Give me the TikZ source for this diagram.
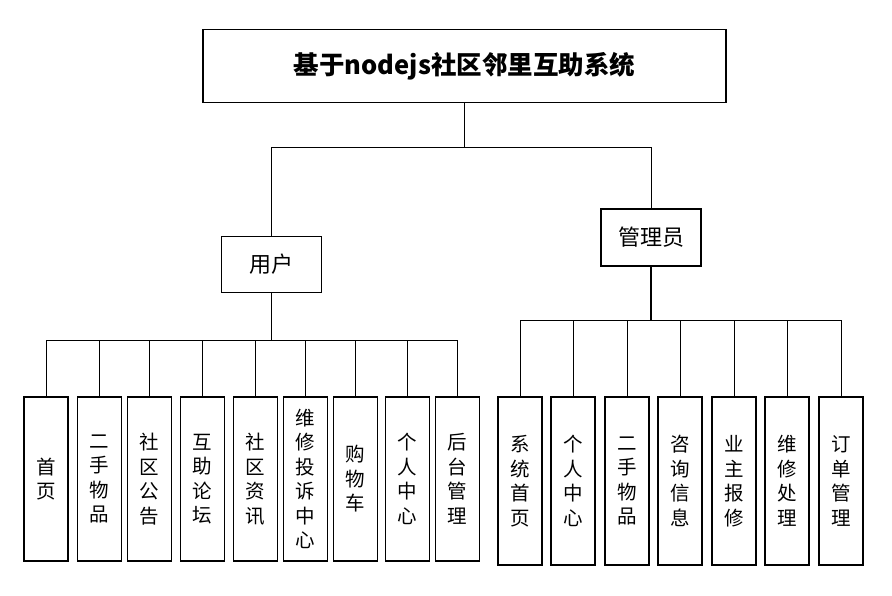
\documentclass[tikz,border=0pt]{standalone}
\usepackage{fontspec}
\setmainfont{Noto Sans CJK SC}
\usetikzlibrary{positioning}

\begin{document}
\begin{tikzpicture}[x=1pt, y=-1pt, every node/.style={inner sep=0pt, outer sep=0pt},
		box/.style={draw, line width=1.2pt, align=center},
		role/.style={box, minimum width=100pt, minimum height=56pt, font=\fontsize{22}{24}\selectfont},
		leaf/.style={box, minimum width=44pt, minimum height=164pt, font=\fontsize{19.5}{24.5}\selectfont},
		link/.style={line width=0.8pt}]
		\useasboundingbox (0,0) rectangle (892,595);
		% top
		\node[box, minimum width=523pt, minimum height=73pt, font=\fontsize{25.5}{30}\selectfont\bfseries] (sys) at (464.5,66) {基于nodejs社区邻里互助系统};
		\node[role] (user) at (271.5,264.5) {用户};
		\node[role, minimum height=57pt] (admin) at (651,237.5) {管理员};
		\coordinate (topbus) at (464.5,147);
		\coordinate (ubus) at (271.5,340);
		\coordinate (abus) at (651,320);
		% user leaves
		\node[leaf] (u1) at (46,479) {首\\页};
		\node[leaf] (u2) at (99.5,479) {二\\手\\物\\品};
		\node[leaf] (u3) at (149.5,479) {社\\区\\公\\告};
		\node[leaf] (u4) at (202.5,479) {互\\助\\论\\坛};
		\node[leaf] (u5) at (255.5,479) {社\\区\\资\\讯};
		\node[leaf] (u6) at (305.5,479) {维\\修\\投\\诉\\中\\心};
		\node[leaf] (u7) at (355.5,479) {购\\物\\车};
		\node[leaf] (u8) at (407.5,479) {个\\人\\中\\心};
		\node[leaf] (u9) at (457.5,479) {后\\台\\管\\理};
		% admin leaves
		\node[leaf, minimum height=168pt] (a1) at (520,481) {系\\统\\首\\页};
		\node[leaf, minimum height=168pt] (a2) at (573,481) {个\\人\\中\\心};
		\node[leaf, minimum height=168pt] (a3) at (627,481) {二\\手\\物\\品};
		\node[leaf, minimum height=168pt] (a4) at (680,481) {咨\\询\\信\\息};
		\node[leaf, minimum height=168pt] (a5) at (734,481) {业\\主\\报\\修};
		\node[leaf, minimum height=168pt] (a6) at (787,481) {维\\修\\处\\理};
		\node[leaf, minimum height=168pt] (a7) at (841,481) {订\\单\\管\\理};
		% links
		\draw[link] (sys.south)--(topbus); \draw[link] (user.north)|-(topbus); \draw[link] (admin.north)|-(topbus);
		\draw[link, line width=1.1pt] (user.south)--(ubus); \draw[link, line width=1.1pt] (admin.south)--(abus);
		\draw[link] (u1.north)|-(ubus); \draw[link] (u2.north)|-(ubus); \draw[link] (u3.north)|-(ubus); \draw[link] (u4.north)|-(ubus); \draw[link] (u5.north)|-(ubus);
		\draw[link] (u6.north)|-(ubus); \draw[link] (u7.north)|-(ubus); \draw[link] (u8.north)|-(ubus); \draw[link] (u9.north)|-(ubus);
		\draw[link] (a1.north)|-(abus); \draw[link] (a2.north)|-(abus); \draw[link] (a3.north)|-(abus); \draw[link] (a4.north)|-(abus);
		\draw[link] (a5.north)|-(abus); \draw[link] (a6.north)|-(abus); \draw[link] (a7.north)|-(abus);
	\end{tikzpicture}
\end{document}
